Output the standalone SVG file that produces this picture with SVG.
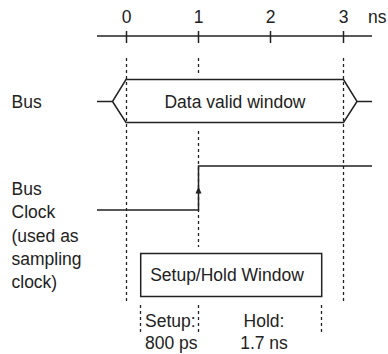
<svg xmlns="http://www.w3.org/2000/svg" width="388" height="354" viewBox="0 0 388 354">
<style>
text{font-family:"Liberation Sans",Arial,sans-serif;font-size:17.5px;fill:#222}
.ln{fill:none;stroke:#222;stroke-width:1.5}
.dash{fill:none;stroke:#222;stroke-width:1.3;stroke-dasharray:3 3}
.mid{text-anchor:middle}
</style>
<defs>
<marker id="ah" viewBox="0 0 6 7" refX="3" refY="0" markerWidth="6" markerHeight="7" markerUnits="userSpaceOnUse" orient="auto-start-reverse">
<path d="M0,7 L3,0 L6,7 Z" fill="#222"/>
</marker>
</defs>
<rect width="388" height="354" fill="#fff"/>
<g id="axis">
<line class="ln" x1="97" y1="36" x2="372" y2="36"/>
<line class="ln" x1="126.5" y1="31" x2="126.5" y2="43"/>
<line class="ln" x1="198.5" y1="31" x2="198.5" y2="43"/>
<line class="ln" x1="270.5" y1="31" x2="270.5" y2="43"/>
<line class="ln" x1="343.5" y1="31" x2="343.5" y2="43"/>
<text class="mid" x="126.5" y="23">0</text>
<text class="mid" x="198.5" y="23">1</text>
<text class="mid" x="270.5" y="23">2</text>
<text class="mid" x="343.5" y="23">3</text>
<text x="368" y="23">ns</text>
</g>
<g id="connectors">
<line class="dash" x1="126.5" y1="58" x2="126.5" y2="303"/>
<line class="dash" x1="198.5" y1="58" x2="198.5" y2="74"/>
<line class="dash" x1="198.5" y1="131" x2="198.5" y2="247"/>
<line class="dash" x1="343.5" y1="58" x2="343.5" y2="303"/>
<line class="dash" x1="140.5" y1="305" x2="140.5" y2="332"/>
<line class="dash" x1="198.5" y1="305" x2="198.5" y2="332"/>
<line class="dash" x1="321.5" y1="305" x2="321.5" y2="332"/>
</g>
<g id="bus-label"><text x="11.5" y="108">Bus</text></g>
<g id="bus-signal">
<path class="ln" d="M97,101.5 H112.5 L126,79.5 H343.5 L357,101.5 H372 M112.5,101.5 L126,122.5 H343.5 L357,101.5"/>
<text class="mid" x="235" y="107.5">Data valid window</text>
</g>
<g id="clock-label">
<text x="11.5" y="195">Bus</text>
<text x="11.5" y="218.3">Clock</text>
<text x="11.5" y="241.5">(used as</text>
<text x="11.5" y="264.5">sampling</text>
<text x="11.5" y="287.7">clock)</text>
</g>
<g id="clock-signal">
<path class="ln" d="M97,210 H198.5 V166 H372"/>
<path d="M195.5,193.5 L198.5,186.5 L201.5,193.5 Z" fill="#222"/>
</g>
<g id="setup-hold-window">
<rect class="ln" x="140.7" y="253.5" width="181" height="43"/>
<text class="mid" x="227" y="280.5">Setup/Hold Window</text>
</g>
<g id="setup-label">
<text x="145" y="326.5">Setup:</text>
<text x="145" y="349">800 ps</text>
</g>
<g id="hold-label">
<text class="mid" x="264" y="326.5">Hold:</text>
<text class="mid" x="264" y="349">1.7 ns</text>
</g>
</svg>
